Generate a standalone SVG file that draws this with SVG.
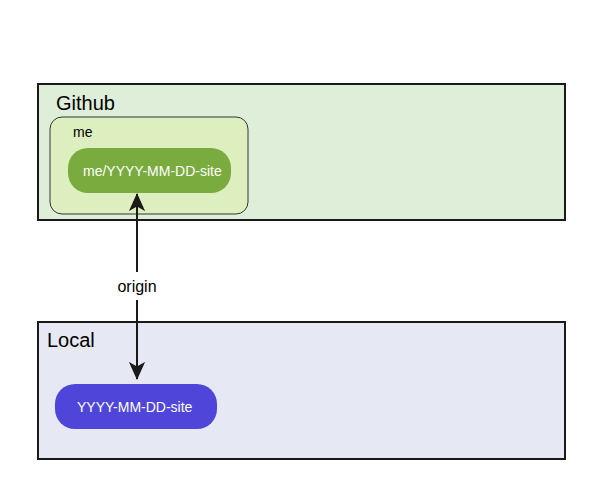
<svg xmlns="http://www.w3.org/2000/svg" width="596" height="489" viewBox="0 0 596 489">
<style>
.zone{stroke:#1a1a1a;stroke-width:2}
.lbl{font-family:"Liberation Sans",Arial,sans-serif;fill:#000}
.pill-t{font-family:"Liberation Sans",Arial,sans-serif;fill:#fff;font-size:14px}
.conn{stroke:#1a1a1a;stroke-width:2;fill:none}
</style>
<defs>
<marker id="ah" viewBox="0 0 20 20" refX="19" refY="10" markerWidth="18" markerHeight="18" markerUnits="userSpaceOnUse" orient="auto-start-reverse">
<path d="M0,1 L20,10 L0,19 L5,10 Z" fill="#1a1a1a"/>
</marker>
</defs>
<rect width="596" height="489" fill="#fff"/>
<g id="github">
<rect class="zone" x="38" y="84" width="527" height="136" fill="#dfeed9"/>
<text class="lbl" x="56" y="110" font-size="20">Github</text>
</g>
<g id="me">
<rect x="50" y="117" width="198" height="97" rx="12" fill="#deefbf" stroke="#333" stroke-width="1"/>
<text class="lbl" x="73" y="137" font-size="14">me</text>
</g>
<g id="remote-repo">
<rect x="68" y="148" width="163" height="45" rx="20" fill="#7aab3e"/>
<text class="pill-t" x="83" y="176">me/YYYY-MM-DD-site</text>
</g>
<g id="local">
<rect class="zone" x="38" y="322" width="527" height="137" fill="#e6e9f3"/>
<text class="lbl" x="47" y="347" font-size="20">Local</text>
</g>
<g id="local-repo">
<rect x="55" y="384" width="162" height="45" rx="20" fill="#4f46d9"/>
<text class="pill-t" x="77" y="412">YYYY-MM-DD-site</text>
</g>
<g id="connectors">
<path class="conn" d="M137,194 V272" marker-start="url(#ah)"/>
<path class="conn" d="M137,300 V379" marker-end="url(#ah)"/>
<text class="lbl" x="137" y="292" font-size="16" text-anchor="middle">origin</text>
</g>
</svg>
